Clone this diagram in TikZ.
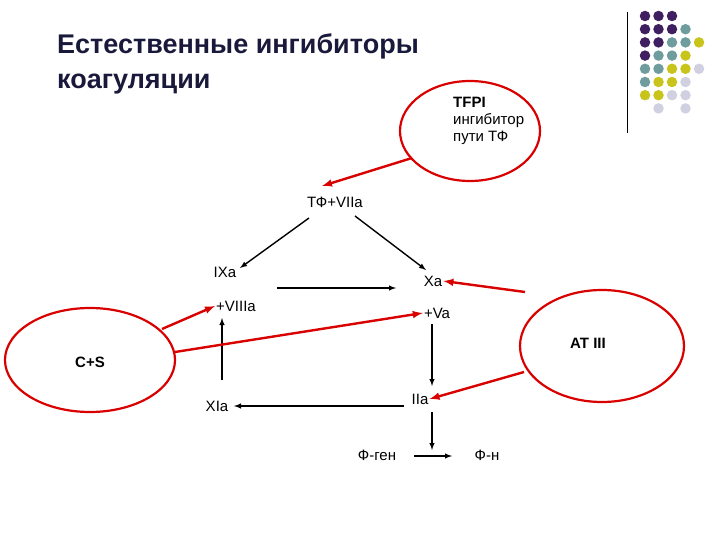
\documentclass[tikz,border=0pt]{standalone}
\usepackage{fontspec}
\setmainfont{Liberation Sans}
\begin{document}
\begin{tikzpicture}[x=1pt,y=-1pt,
 lbl/.style={font=\fontsize{15}{17}\selectfont,inner sep=1pt},
 blk/.style={-latex,line width=1.4pt,black},
 redarr/.style={-latex,red!85!black,line width=2.4pt},
 ell/.style={draw=red!85!black,line width=2.2pt},
 dot/.style={circle,minimum size=10.5pt,inner sep=0pt}]
\useasboundingbox (0,0) rectangle (720,540);
\definecolor{cP}{HTML}{3F1F5F}\definecolor{cT}{HTML}{6F9C9C}
\definecolor{cY}{HTML}{C8C41C}\definecolor{cL}{HTML}{D0D0E0}
\draw[thick] (627,12) -- (627,133);
\foreach \r/\list in {0/{P,P,P},1/{P,P,P,T},2/{P,P,T,T,Y},3/{P,T,T,Y},4/{T,T,Y,Y,L},5/{T,Y,Y,L},6/{Y,Y,L,L}}{
  \foreach \c [count=\i from 0] in \list {\node[dot,fill=c\c] (d\r\i) at (645+13.5*\i,16+13.2*\r) {};}}
\node[dot,fill=cL] (d71) at (658.5,108.4) {};
\node[dot,fill=cL] (d73) at (685.5,108.4) {};
\node[anchor=west,font=\bfseries\fontsize{27}{35}\selectfont,text=black!85!blue!90,align=left,inner sep=0pt] (title) at (57,64) {Естественные ингибиторы\\коагуляции};
\draw[ell] (470,131) ellipse (70 and 50);
\draw[ell] (602,346) ellipse (82 and 56);
\draw[ell] (90,360) ellipse (85 and 52);
\node[lbl,anchor=north west,align=left] (tfpi) at (452,96) {\textbf{TFPI}\\ингибитор\\пути ТФ};
\node[lbl] (at) at (588,343) {\textbf{AT III}};
\node[lbl] (cs) at (90,362) {\textbf{C+S}};
\node[lbl] (tf) at (335,202) {ТФ+VIIa};
\node[lbl] (ix) at (225,272) {IXa};
\node[lbl] (xa) at (433,281) {Xa};
\node[lbl] (viii) at (236,306) {+VIIIa};
\node[lbl] (va) at (437,313) {+Va};
\node[lbl] (iia) at (420,399) {IIa};
\node[lbl] (xia) at (217,406) {XIa};
\node[lbl] (fg) at (377,455) {Ф-ген};
\node[lbl] (fn) at (487,455) {Ф-н};
\coordinate (h1) at (277,288); \coordinate (h2) at (396,288);
\coordinate (tfin) at (322,186);
\draw[blk] (309,218) -- (240,268);
\draw[blk] (355,216) -- (426,270);
\draw[blk] (h1) -- (h2);
\draw[blk] (432,324) -- (432,386);
\draw[blk] (404,406) -- (234,406);
\draw[blk] (222,380) -- (222,318);
\draw[blk] (432,412) -- (432,450);
\draw[blk] (414,456) -- (452,456);
\draw[redarr] (412,158) -- (tfin);
\draw[redarr] (525,292) -- (xa.east);
\draw[redarr] (524,372) -- (iia.east);
\draw[redarr] (162,329) -- (viii.west);
\draw[redarr] (175,352) -- (va.west);
\end{tikzpicture}
\end{document}
